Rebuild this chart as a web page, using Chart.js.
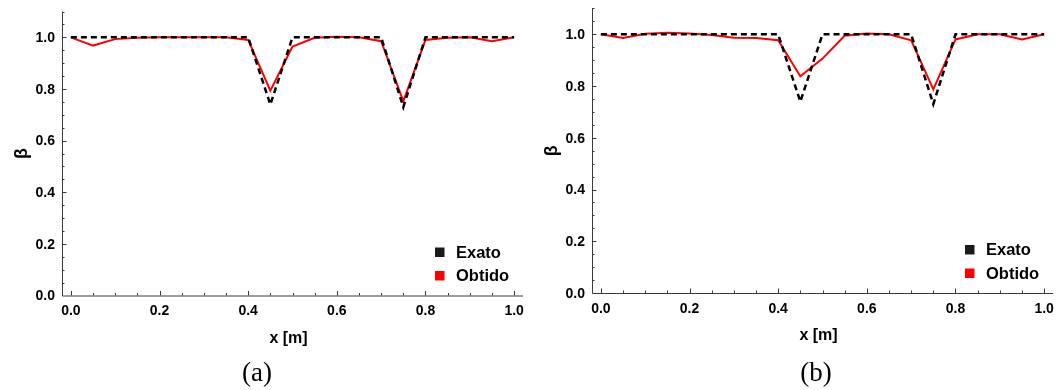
<!DOCTYPE html>
<html>
<head>
<meta charset="utf-8">
<script src="https://cdn.jsdelivr.net/npm/chart.js@4"></script>
<style>
  html, body { margin: 0; padding: 0; background: #fff; }
  body { width: 1063px; height: 390px; position: relative; overflow: hidden; }
  .wrap { position: absolute; top: 0; height: 390px; }
  .cap { position: absolute; font-family: 'Liberation Serif', 'Times New Roman', serif; font-size: 27px; line-height: 31px; color: #000; transform: translateX(-50%); top: 357px; }
</style>
</head>
<body>
<div class="wrap" id="wa" style="left:0; width:531px;"><canvas id="ca"></canvas></div>
<div class="wrap" id="wb" style="left:530px; width:533px;"><canvas id="cb"></canvas></div>
<div class="cap" style="left:257px;">(a)</div>
<div class="cap" style="left:816px;">(b)</div>
<script>
// ---- data ----
const xPositions = [0.00, 0.05, 0.10, 0.15, 0.20, 0.25, 0.30, 0.35, 0.40, 0.45, 0.50,
                    0.55, 0.60, 0.65, 0.70, 0.75, 0.80, 0.85, 0.90, 0.95, 1.00];
const exatoValues = [1, 1, 1, 1, 1, 1, 1, 1, 1, 0.74, 1,
                     1, 1, 1, 1, 0.73, 1, 1, 1, 1, 1];
const obtidoA = [1.000, 0.968, 0.993, 0.998, 1.000, 1.000, 1.000, 1.000, 0.990, 0.793, 0.964,
                 0.998, 1.002, 1.000, 0.985, 0.752, 0.990, 0.998, 1.000, 0.985, 1.000];
const obtidoB = [1.000, 0.986, 1.002, 1.006, 1.003, 0.997, 0.987, 0.986, 0.977, 0.838, 0.906,
                 0.994, 1.003, 1.000, 0.977, 0.787, 0.980, 1.000, 1.000, 0.980, 1.000];
const xTickValues = [0, 0.2, 0.4, 0.6, 0.8, 1.0];
const xTickLabels = ['0.0', '0.2', '0.4', '0.6', '0.8', '1.0'];
const yTickValues = [0, 0.2, 0.4, 0.6, 0.8, 1.0];
const yTickLabels = ['0.0', '0.2', '0.4', '0.6', '0.8', '1.0'];
const minorStep = 0.05;
const legendLabels = ['Exato', 'Obtido'];
const xTitle = 'x [m]';
const yTitle = 'β';

const BLACK = '#000000';
const RED = 'rgb(255,0,0)';
const AXIS = '#3a3a3a';
const FONT = "'Liberation Sans', Arial, sans-serif";

function pts(xs, ys) { return xs.map((x, i) => ({ x: x, y: ys[i] })); }

const axesPlugin = {
  id: 'mmaAxes',
  afterDraw(chart) {
    const ctx = chart.ctx;
    const xs = chart.scales.x, ys = chart.scales.y;
    const ca = chart.chartArea;
    const x0 = ca.left, y0 = ys.getPixelForValue(0);
    ctx.save();
    ctx.strokeStyle = AXIS;
    ctx.lineWidth = 1;
    // axis lines
    ctx.beginPath();
    ctx.moveTo(x0 + 0.5, ys.getPixelForValue(ys.max));
    ctx.lineTo(x0 + 0.5, y0 + 0.5);
    ctx.lineTo(ca.right, y0 + 0.5);
    ctx.stroke();
    // minor + major ticks (inward)
    ctx.beginPath();
    for (let k = 0; k * minorStep <= xs.max + 1e-9; k++) {
      const v = k * minorStep;
      const major = (k % 4 === 0);
      const px = Math.round(xs.getPixelForValue(v)) + 0.5;
      ctx.moveTo(px, y0);
      ctx.lineTo(px, y0 - (major ? 4.5 : 2.5));
    }
    for (let k = 1; k * minorStep <= ys.max + 1e-9; k++) {
      const v = k * minorStep;
      const major = (k % 4 === 0);
      const py = Math.round(ys.getPixelForValue(v)) + 0.5;
      ctx.moveTo(x0, py);
      ctx.lineTo(x0 + (major ? 4.5 : 2.5), py);
    }
    ctx.stroke();
    // tick labels
    ctx.fillStyle = '#000';
    ctx.font = 'bold 14px ' + FONT;
    ctx.textAlign = 'center';
    ctx.textBaseline = 'middle';
    xTickValues.forEach((v, i) => {
      ctx.fillText(xTickLabels[i], xs.getPixelForValue(v), y0 + 16);
    });
    ctx.textAlign = 'right';
    yTickValues.forEach((v, i) => {
      ctx.fillText(yTickLabels[i], x0 - 7, ys.getPixelForValue(v) + 1);
    });
    // axis titles
    ctx.textAlign = 'center';
    ctx.font = 'bold 16px ' + FONT;
    ctx.fillText(xTitle, (xs.getPixelForValue(0) + xs.getPixelForValue(1)) / 2 - 4, y0 + 43);
    ctx.save();
    ctx.translate(x0 - 40, ys.getPixelForValue(0.55));
    ctx.rotate(-Math.PI / 2);
    ctx.font = 'bold 18px ' + FONT;
    ctx.fillText(yTitle, 0, 0);
    ctx.restore();
    // legend
    const lx = ca.right - 88;
    const colors = ['#1a1a1a', RED];
    ctx.font = 'bold 16.5px ' + FONT;
    ctx.textAlign = 'left';
    ctx.textBaseline = 'alphabetic';
    legendLabels.forEach((lab, i) => {
      const top = y0 - 48 + i * 23.5;
      ctx.fillStyle = colors[i];
      ctx.fillRect(lx, top, 9.5, 9.5);
      ctx.fillStyle = '#000';
      ctx.fillText(lab, lx + 21, top + 10);
    });
    ctx.restore();
  }
};

function makeChart(id, obtido, pad) {
  return new Chart(document.getElementById(id), {
    type: 'line',
    data: {
      datasets: [
        { label: legendLabels[0], data: pts(xPositions, exatoValues), borderColor: BLACK,
          borderWidth: 2.5, borderDash: [6, 4], pointRadius: 0, fill: false, tension: 0, order: 0 },
        { label: legendLabels[1], data: pts(xPositions, obtido), borderColor: RED,
          borderWidth: 2, pointRadius: 0, fill: false, tension: 0, order: 1 }
      ]
    },
    options: {
      responsive: true,
      maintainAspectRatio: false,
      animation: false,
      devicePixelRatio: 1,
      layout: { padding: pad },
      plugins: { legend: { display: false }, tooltip: { enabled: false } },
      scales: {
        x: { type: 'linear', display: false, min: -0.02, max: 1.02 },
        y: { type: 'linear', display: false, min: 0, max: 1.1 }
      }
    },
    plugins: [axesPlugin]
  });
}

makeChart('ca', obtidoA, { left: 62, right: 8, top: 11.5, bottom: 94.5 });
makeChart('cb', obtidoB, { left: 62, right: 10, top: 8.4, bottom: 97 });
</script>
</body>
</html>
